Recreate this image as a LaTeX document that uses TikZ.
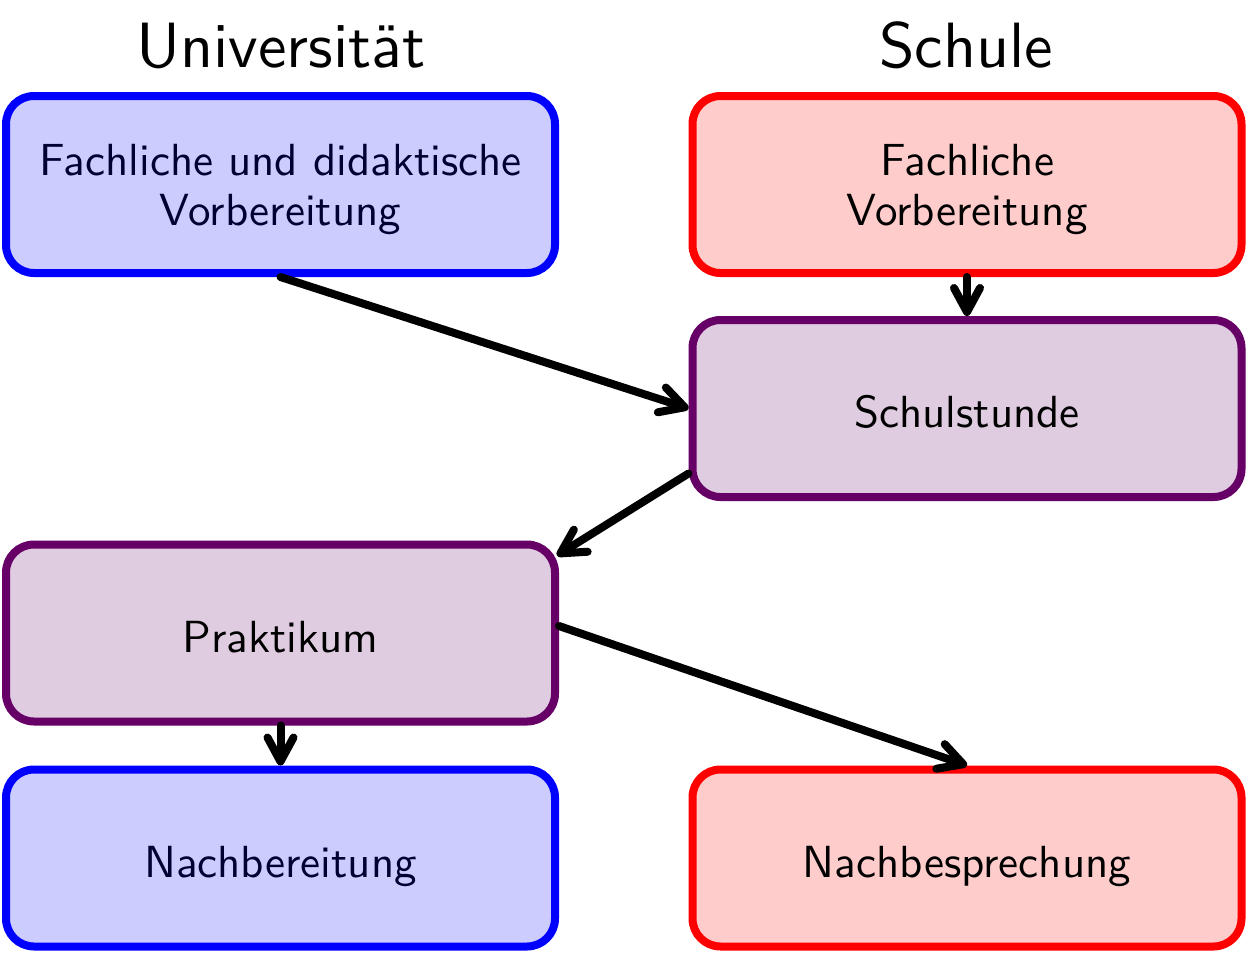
\documentclass[tikz,border=0pt]{standalone}
\usepackage{fontspec}
\newfontfamily\sften{lmsans10-regular.otf}
\usetikzlibrary{arrows.meta}
\definecolor{uniblue}{rgb}{0,0,1}
\definecolor{schulred}{rgb}{1,0,0}
\definecolor{mixpurple}{rgb}{0.4,0,0.4}
\definecolor{navytext}{rgb}{0,0,0.2}
\begin{document}
\begin{tikzpicture}[x=0.5pt,y=-0.5pt,
  box/.style={rectangle, rounded corners=14pt, line width=4pt,
    minimum width=274.5pt, minimum height=88.5pt, align=center,
    font=\sften\fontsize{22.5}{25}\selectfont, inner sep=0pt,
    text height=19pt, text depth=0pt},
  twoline/.style={text height=40.5pt, text depth=0pt},
  unibox/.style={box, draw=uniblue, fill=uniblue!20, text=navytext},
  schulbox/.style={box, draw=schulred, fill=schulred!20},
  mixbox/.style={box, draw=mixpurple, fill=mixpurple!20},
  title/.style={font=\sften\fontsize{32}{36}\selectfont, anchor=base},
  arr/.style={line width=4pt, line cap=round,
    -{Straight Barb[length=12pt,width=13pt,round]}}
]
\useasboundingbox (0,0) rectangle (1248,953);
\node[title] (tu) at (281,67) {Universität};
\node[title] (ts) at (966,67) {Schule};
\node[unibox,twoline] (fdv) at (280.5,184.5) {Fachliche und didaktische\\Vorbereitung};
\node[schulbox,twoline] (fv) at (967,184.5) {Fachliche\\Vorbereitung};
\node[mixbox] (schul) at (967,408.5) {Schulstunde};
\node[mixbox] (prak) at (280.5,633) {Praktikum};
\node[unibox] (nber) at (280.5,858) {Nachbereitung};
\node[schulbox] (nbes) at (967,858) {Nachbesprechung};
\draw[arr] (fdv.south) -- (schul.west);
\draw[arr] (fv.south) -- (schul.north);
\draw[arr] ([yshift=-32.5pt]schul.west) -- ([shift={(-1pt,-7.5pt)}]prak.north east);
\draw[arr] ([yshift=3.5pt]prak.east) -- (nbes.north);
\draw[arr] (prak.south) -- (nber.north);
\end{tikzpicture}
\end{document}
